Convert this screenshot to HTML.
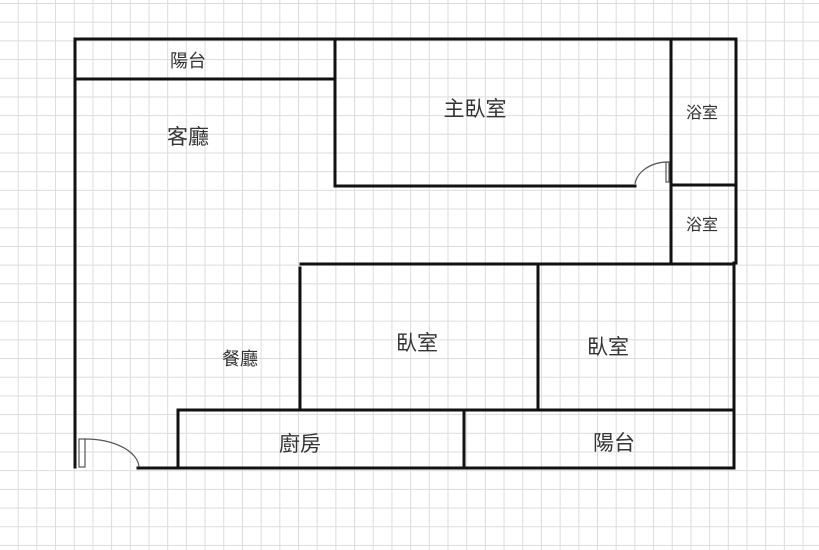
<!DOCTYPE html>
<html><head><meta charset="utf-8"><style>
html,body{margin:0;padding:0;background:#fff;}
body{width:819px;height:550px;overflow:hidden;position:relative;
background-image:linear-gradient(to right,#dcdcdc 1px,transparent 1px),linear-gradient(to bottom,#dcdcdc 1px,transparent 1px);
background-size:18.7px 18.7px;background-position:-1px 3px;}
svg{position:absolute;left:0;top:0;}
text{font-family:"Liberation Sans","Noto Sans CJK TC",sans-serif;fill:#333;}
</style></head><body>
<svg width="819" height="550" viewBox="0 0 819 550">
<g stroke="#111" stroke-width="3" fill="none" stroke-linecap="square">
<line x1="75" y1="39" x2="736" y2="39"/>
<line x1="75" y1="39" x2="75" y2="467"/>
<line x1="75" y1="79" x2="335" y2="79"/>
<line x1="335" y1="39" x2="335" y2="186"/>
<line x1="335" y1="186" x2="635" y2="186"/>
<line x1="671" y1="39" x2="671" y2="263"/>
<line x1="671" y1="185" x2="736" y2="185"/>
<line x1="736" y1="39" x2="736" y2="263"/>
<line x1="734" y1="263" x2="734" y2="468"/>
<line x1="301" y1="264" x2="734" y2="264"/>
<line x1="300" y1="268" x2="300" y2="410"/>
<line x1="538" y1="264" x2="538" y2="410"/>
<line x1="178" y1="410" x2="734" y2="410"/>
<line x1="178" y1="410" x2="178" y2="468"/>
<line x1="464" y1="410" x2="464" y2="468"/>
<line x1="138" y1="468" x2="734" y2="468"/>
</g>
<g stroke="#555" stroke-width="1.2" fill="none">
<path d="M635 184 A33 25 0 0 1 668 162"/>
<rect x="666" y="162" width="3" height="20"/>
<path d="M84 439 A54 29 0 0 1 139 467"/>
<rect x="79" y="439" width="6" height="28"/>
</g>
<text x="188" y="67" font-size="18" text-anchor="middle">陽台</text>
<text x="475" y="116" font-size="21" text-anchor="middle">主臥室</text>
<text x="702" y="118" font-size="16" text-anchor="middle">浴室</text>
<text x="702" y="230" font-size="16" text-anchor="middle">浴室</text>
<text x="188" y="144" font-size="21" text-anchor="middle">客廳</text>
<text x="417" y="350" font-size="21" text-anchor="middle">臥室</text>
<text x="608" y="354" font-size="21" text-anchor="middle">臥室</text>
<text x="240" y="365" font-size="18" text-anchor="middle">餐廳</text>
<text x="300" y="451" font-size="21" text-anchor="middle">廚房</text>
<text x="614" y="450" font-size="21" text-anchor="middle">陽台</text>
</svg>
</body></html>
